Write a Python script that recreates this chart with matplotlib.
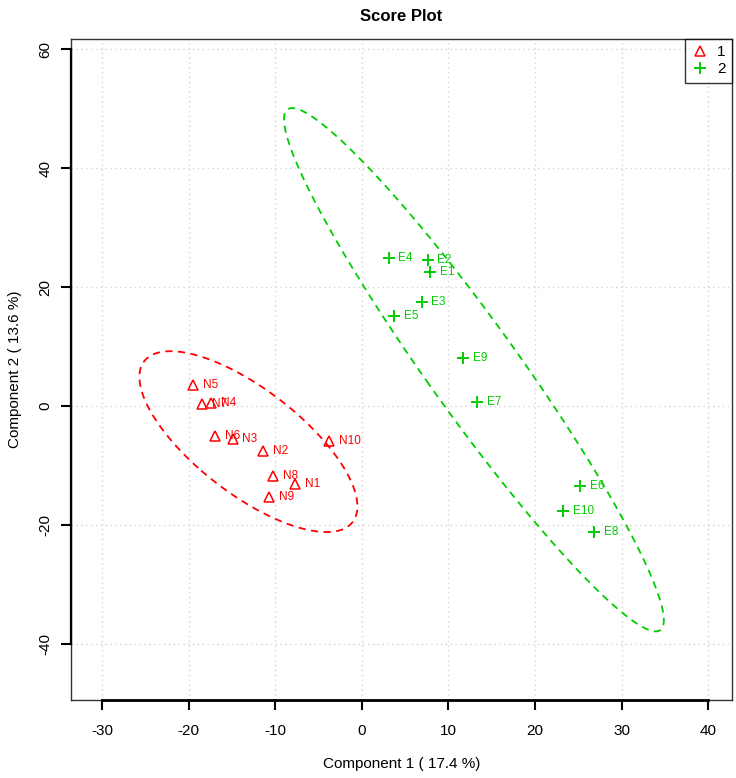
import numpy as np
import matplotlib
matplotlib.use('Agg')
import matplotlib.pyplot as plt

plt.rcParams['font.family'] = ['Liberation Sans Narrow', 'Liberation Sans', 'DejaVu Sans']
plt.rcParams['axes.unicode_minus'] = False

# scores
n_names = ['N1', 'N2', 'N3', 'N4', 'N5', 'N6', 'N7', 'N8', 'N9', 'N10']
n_x = [-7.7, -11.4, -14.9, -17.4, -19.5, -16.9, -18.4, -10.2, -10.7, -3.8]
n_y = [-13.1, -7.6, -5.6, 0.5, 3.5, -5.1, 0.3, -11.8, -15.4, -5.9]

e_names = ['E1', 'E2', 'E3', 'E4', 'E5', 'E6', 'E7', 'E8', 'E9', 'E10']
e_x = [7.9, 7.6, 6.9, 3.1, 3.7, 25.2, 13.3, 26.8, 11.7, 23.2]
e_y = [22.6, 24.6, 17.4, 24.9, 15.2, -13.5, 0.6, -21.3, 8.0, -17.7]

x_ticks = [-30, -20, -10, 0, 10, 20, 30, 40]
y_ticks = [-40, -20, 0, 20, 40, 60]

red = '#FF0000'
green = '#00CD00'


def conf_ellipse(x, y, level=0.95, n=200):
    pts = np.column_stack([x, y])
    mu = pts.mean(axis=0)
    cov = np.cov(pts, rowvar=False)
    t = np.sqrt(-2 * np.log(1 - level))
    vals, vecs = np.linalg.eigh(cov)
    a = np.linspace(0, 2 * np.pi, n)
    circ = np.column_stack([np.cos(a), np.sin(a)])
    el = circ * np.sqrt(vals) * t @ vecs.T + mu
    return el[:, 0], el[:, 1]


fig = plt.figure(figsize=(7.36, 7.78), dpi=100)
ax = fig.add_axes([0.0961, 0.1003, 0.8981, 0.8492])
ax.set_xlim(-33.6, 42.7)
ax.set_ylim(-49.5, 61.7)

for t in x_ticks:
    ax.axvline(t, color='#D3D3D3', ls=(0, (1, 2.5)), lw=1, zorder=0)
for t in y_ticks:
    ax.axhline(t, color='#D3D3D3', ls=(0, (1, 2.5)), lw=1, zorder=0)

ex, ey = conf_ellipse(n_x, n_y)
ax.plot(ex, ey, color=red, ls=(0, (4, 3)), lw=1.3)
ex, ey = conf_ellipse(e_x, e_y)
ax.plot(ex, ey, color=green, ls=(0, (4, 3)), lw=1.3)

ax.plot(n_x, n_y, ls='none', marker='^', ms=7, mfc='none', mec=red, mew=1.1, label='1')
ax.plot(e_x, e_y, ls='none', marker='+', ms=9, color=green, mew=1.4, label='2')

for name, x, y in zip(n_names, n_x, n_y):
    ax.annotate(name, (x, y), xytext=(7, 0), textcoords='offset points',
                va='center', ha='left', fontsize=8.5, color=red)
for name, x, y in zip(e_names, e_x, e_y):
    ax.annotate(name, (x, y), xytext=(7, 0), textcoords='offset points',
                va='center', ha='left', fontsize=8.5, color=green)

# R style box + axis lines
for s in ax.spines.values():
    s.set_linewidth(1.0)
    s.set_color('#333333')
ax.plot([x_ticks[0], x_ticks[-1]], [-49.5, -49.5], color='black', lw=2, clip_on=False, zorder=5)
ax.plot([-33.6, -33.6], [y_ticks[0], y_ticks[-1]], color='black', lw=1.6, clip_on=False, zorder=5)

ax.set_xticks(x_ticks)
ax.set_yticks(y_ticks)
ax.set_yticklabels([str(v) for v in y_ticks], rotation=90, va='center')
ax.tick_params(direction='out', length=7, width=1.5, labelsize=11)
ax.tick_params(axis='x', pad=10)
ax.tick_params(axis='y', pad=6)

ax.set_xlabel('Component 1 ( 17.4 %)', fontsize=11, labelpad=14)
ax.set_ylabel('Component 2 ( 13.6 %)', fontsize=11, labelpad=12)
ax.set_title('Score Plot', fontsize=12, fontweight='bold', pad=13)

leg = ax.legend(loc='upper right', borderaxespad=0, fancybox=False, fontsize=11,
                handlelength=1.2, handletextpad=0.5, borderpad=0.4, labelspacing=0.2)
leg.get_frame().set_edgecolor('black')
leg.get_frame().set_linewidth(1.0)

fig.savefig('out.png', dpi=100)
